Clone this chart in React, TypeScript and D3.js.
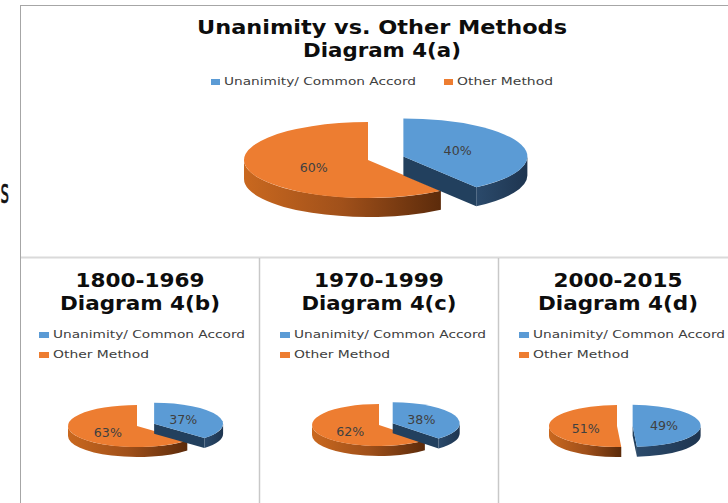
import React from 'react';
import * as d3 from 'd3';

// chart data
const seriesNames = ['Unanimity/ Common Accord', 'Other Method'];
const periodTitles = ['Unanimity vs. Other Methods', '1800-1969', '1970-1999', '2000-2015'];
const diagramNames = ['Diagram 4(a)', 'Diagram 4(b)', 'Diagram 4(c)', 'Diagram 4(d)'];
const unanimity = [40, 37, 38, 49];
const otherMethod = [60, 63, 62, 51];

const W = 728;
const H = 503;
const topColors = ['#5b9bd5', '#ed7d31'];
const sideFills = ['url(#blueSide)', 'url(#orangeSide)'];

// where each of the four pies sits
const layouts = [
  { cx: 368, cy: 160, rx: 124, ry: 38, depth: 19, explode: 0.3, titleX: 382, t1: 34, t2: 57, w1: 370, w2: 158, legend: 'row' },
  { cx: 137, cy: 426, rx: 69, ry: 21, depth: 10, explode: 0.27, titleX: 140, t1: 287, t2: 310, w1: 129, w2: 160, legend: 'col', lx: 39 },
  { cx: 379, cy: 425, rx: 67, ry: 21, depth: 10, explode: 0.22, titleX: 379, t1: 287, t2: 310, w1: 130, w2: 155, legend: 'col', lx: 280 },
  { cx: 617, cy: 426, rx: 68, ry: 21, depth: 10, explode: 0.23, titleX: 618, t1: 287, t2: 310, w1: 129, w2: 160, legend: 'col', lx: 519 },
];

const legendWidths = [192, 96];

function Pie3D({ idx }: { idx: number }) {
  const L = layouts[idx];
  const values = [unanimity[idx], otherMethod[idx]];
  const arcs = d3.pie<number>().sort(null).value(d => d)(values);
  const large = (a0: number, a1: number) => (a1 - a0 > Math.PI ? 1 : 0);

  const pieces = arcs.map((a, j) => {
    const mid = (a.startAngle + a.endAngle) / 2;
    const e = j === 0 ? L.explode : 0;
    const ox = e * L.rx * Math.sin(mid);
    const oy = -e * L.ry * Math.cos(mid);
    const pt = (ang: number, dz = 0) =>
      [L.cx + ox + L.rx * Math.sin(ang), L.cy + oy - L.ry * Math.cos(ang) + dz];
    const c = [L.cx + ox, L.cy + oy];
    const a0 = a.startAngle, a1 = a.endAngle;
    const p0 = pt(a0), p1 = pt(a1);
    const top = `M${c[0]},${c[1]}L${p0[0]},${p0[1]}A${L.rx},${L.ry} 0 ${large(a0, a1)} 1 ${p1[0]},${p1[1]}Z`;

    const walls: { d: string; fill: string }[] = [];
    // radial cut faces that point at the viewer
    const quad = (ang: number) => {
      const p = pt(ang), q = pt(ang, L.depth);
      return `M${c[0]},${c[1]}L${p[0]},${p[1]}L${q[0]},${q[1]}L${c[0]},${c[1] + L.depth}Z`;
    };
    if (Math.sin(a0) < -0.01) walls.push({ d: quad(a0), fill: sideFills[j] });
    if (Math.sin(a1) > 0.01) walls.push({ d: quad(a1), fill: j === 0 ? '#22405e' : '#8a4416' });
    // outer rim, front half only
    const s = Math.max(a0, Math.PI / 2), en = Math.min(a1, Math.PI * 1.5);
    if (s < en) {
      const ps = pt(s), pe = pt(en), pe2 = pt(en, L.depth), ps2 = pt(s, L.depth);
      walls.push({
        d: `M${ps[0]},${ps[1]}A${L.rx},${L.ry} 0 0 1 ${pe[0]},${pe[1]}L${pe2[0]},${pe2[1]}A${L.rx},${L.ry} 0 0 0 ${ps2[0]},${ps2[1]}Z`,
        fill: sideFills[j],
      });
    }
    const f = 0.46;
    const lab = [c[0] + f * L.rx * Math.sin(mid), c[1] - f * L.ry * Math.cos(mid) + (j === 1 ? 3 : 0)];
    return { j, top, walls, lab, value: a.data };
  });

  // orange (back-left) first, exploded blue on top
  const order = [1, 0];
  return (
    <g>
      {order.map(j => {
        const p = pieces[j];
        return (
          <g key={j}>
            {p.walls.map((w, k) => <path key={k} d={w.d} fill={w.fill} />)}
            <path d={p.top} fill={topColors[j]} />
          </g>
        );
      })}
      {pieces.map(p => (
        <text key={'l' + p.j} x={p.lab[0]} y={p.lab[1]} textAnchor="middle" dominantBaseline="central"
          fontFamily="DejaVu Sans" fontSize={11.5} fill="#404040" textLength={28} lengthAdjust="spacingAndGlyphs">
          {p.value + '%'}
        </text>
      ))}
    </g>
  );
}

function Titles({ idx }: { idx: number }) {
  const L = layouts[idx];
  return (
    <g fontFamily="DejaVu Sans" fontWeight="bold" fontSize={19} fill="#0d0d0d" textAnchor="middle">
      <text x={L.titleX} y={L.t1} textLength={L.w1} lengthAdjust="spacingAndGlyphs">{periodTitles[idx]}</text>
      <text x={L.titleX} y={L.t2} textLength={L.w2} lengthAdjust="spacingAndGlyphs">{diagramNames[idx]}</text>
    </g>
  );
}

function Legend({ idx }: { idx: number }) {
  const L = layouts[idx];
  const items = seriesNames.map((name, j) => {
    const x = L.legend === 'row' ? (j === 0 ? 211 : 444) : L.lx!;
    const y = L.legend === 'row' ? 85 : 338 + j * 20;
    const tx = L.legend === 'row' ? x + 13 : x + 14;
    return (
      <g key={name}>
        <rect x={x} y={y - 6} width={L.legend === 'row' ? 9 : 10} height={6} fill={topColors[j]} />
        <text x={tx} y={y} fontFamily="DejaVu Sans" fontSize={11} fill="#404040"
          textLength={legendWidths[j]} lengthAdjust="spacingAndGlyphs">{name}</text>
      </g>
    );
  });
  return <g>{items}</g>;
}

export default function App() {
  return (
    <svg width={W} height={H} style={{ position: 'absolute', left: 0, top: 0, background: '#fff' }}>
      <defs>
        <linearGradient id="orangeSide" x1="0" x2="1" y1="0" y2="0">
          <stop offset="0" stopColor="#c9681f" />
          <stop offset="0.5" stopColor="#a0501a" />
          <stop offset="1" stopColor="#5c2b0b" />
        </linearGradient>
        <linearGradient id="blueSide" x1="0" x2="1" y1="0" y2="0">
          <stop offset="0" stopColor="#2b4a6b" />
          <stop offset="1" stopColor="#1e3550" />
        </linearGradient>
      </defs>
      {/* stray letter from the cropped slide */}
      <text x={0.5} y={203} fontFamily="DejaVu Sans" fontSize={34} fill="#111"
        stroke="#111" strokeWidth={0.6} textLength={8.5} lengthAdjust="spacingAndGlyphs">s</text>

      {/* panel frames */}
      <line x1={20.5} x2={W} y1={5.5} y2={5.5} stroke="#a6a6a6" />
      <line x1={20.5} x2={20.5} y1={5} y2={H} stroke="#a6a6a6" />
      <line x1={21} x2={W} y1={257.5} y2={257.5} stroke="#dadada" strokeWidth={2} />
      <line x1={259.5} x2={259.5} y1={258} y2={H} stroke="#c8c8c8" strokeWidth={1.5} />
      <line x1={498.5} x2={498.5} y1={258} y2={H} stroke="#c8c8c8" strokeWidth={1.5} />

      {layouts.map((_, i) => (
        <g key={i}>
          <Titles idx={i} />
          <Legend idx={i} />
          <Pie3D idx={i} />
        </g>
      ))}
    </svg>
  );
}
